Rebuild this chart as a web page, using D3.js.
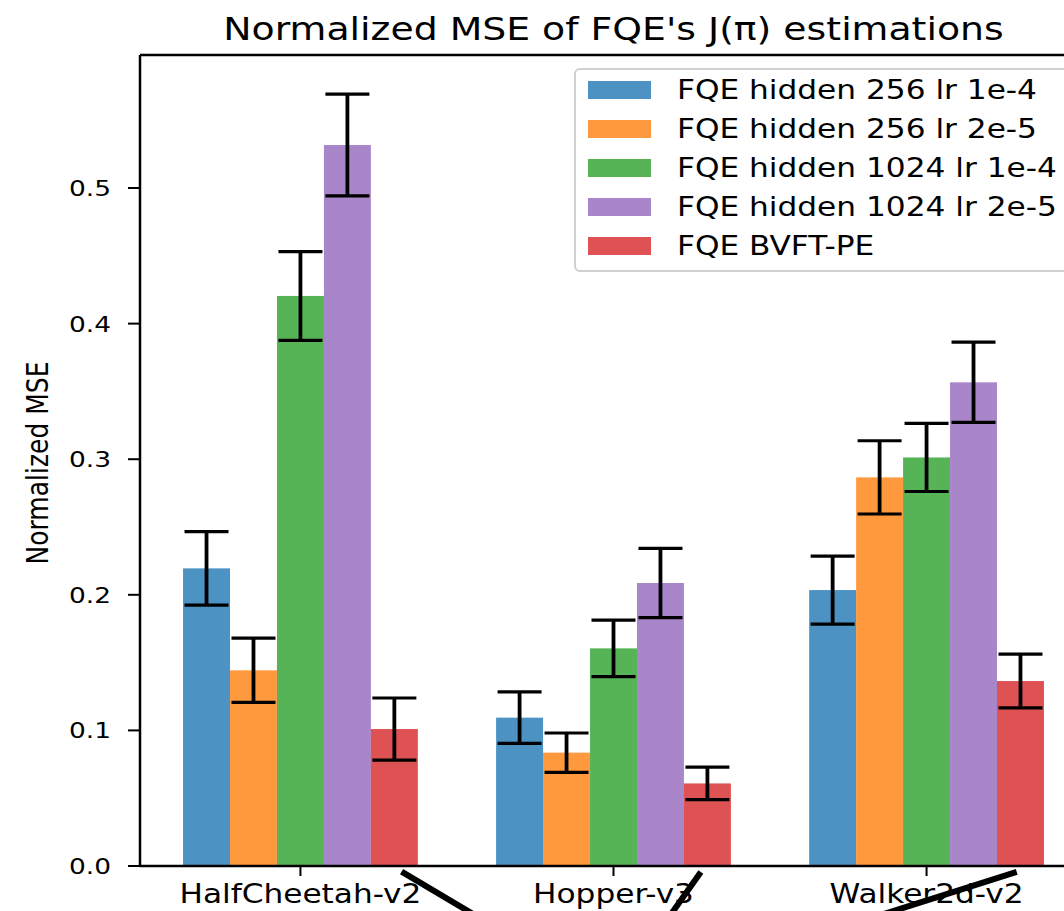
<!DOCTYPE html>
<html>
<head>
    <meta charset="UTF-8" />
    <style>
        body { margin: 0; background: #fff; }
        text { font-family: "DejaVu Sans", sans-serif; fill: #000; }
    </style>
    <script src="https://d3js.org/d3.v7.min.js"></script>
</head>
<body>
    <svg width="1064" height="911"></svg>
    <script>
        // data
        var categories = ["HalfCheetah-v2", "Hopper-v3", "Walker2d-v2"];
        var seriesNames = [
            "FQE hidden 256 lr 1e-4",
            "FQE hidden 256 lr 2e-5",
            "FQE hidden 1024 lr 1e-4",
            "FQE hidden 1024 lr 2e-5",
            "FQE BVFT-PE"
        ];
        var means = [
            [0.2195, 0.1094, 0.2035],
            [0.1443, 0.0836, 0.2866],
            [0.4204, 0.1605, 0.3013],
            [0.5317, 0.2087, 0.3567],
            [0.1010, 0.0609, 0.1364]
        ];
        var errors = [
            [0.0271, 0.0190, 0.0251],
            [0.0237, 0.0145, 0.0270],
            [0.0327, 0.0209, 0.0251],
            [0.0375, 0.0256, 0.0296],
            [0.0229, 0.0120, 0.0198]
        ];
        var yTicks = [0.0, 0.1, 0.2, 0.3, 0.4, 0.5];
        // stray strokes below the axis, in data units (group index, value)
        var slashes = [
            [0.323, -0.0042, 0.641, -0.0477],
            [1.279, -0.0044, 1.147, -0.0476],
            [2.288, -0.0044, 1.697, -0.0476]
        ];

        var colors = ["#1f77b4", "#ff7f0e", "#2ca02c", "#9467bd", "#d62728"];
        var barW = 0.15;
        var sx = 1.2; // horizontal stretch of the text

        var svg = d3.select("svg");

        var x = d3.scaleLinear().domain([-0.5125, 2.5125]).range([140, 1087]);
        var y = d3.scaleLinear().domain([0, 0.5981]).range([866, 55]);

        var g = svg.append("g");

        // bars
        seriesNames.forEach(function(name, j) {
            g.selectAll(".bar" + j)
             .data(means[j])
             .enter().append("rect")
             .attr("x", function(d, i) { return x(i + (j - 2) * barW - barW / 2); })
             .attr("width", x(barW) - x(0))
             .attr("y", function(d) { return y(d); })
             .attr("height", function(d) { return y(0) - y(d); })
             .attr("fill", colors[j])
             .attr("fill-opacity", 0.8);
        });

        // error bars
        seriesNames.forEach(function(name, j) {
            var eb = g.selectAll(".err" + j)
                      .data(means[j])
                      .enter().append("g");
            var cx = function(d, i) { return x(i + (j - 2) * barW); };
            eb.append("line")
              .attr("x1", cx).attr("x2", cx)
              .attr("y1", function(d, i) { return y(d - errors[j][i]); })
              .attr("y2", function(d, i) { return y(d + errors[j][i]); })
              .attr("stroke", "#000").attr("stroke-width", 3.8);
            [-1, 1].forEach(function(s) {
                eb.append("line")
                  .attr("x1", function(d, i) { return cx(d, i) - 22; })
                  .attr("x2", function(d, i) { return cx(d, i) + 22; })
                  .attr("y1", function(d, i) { return y(d + s * errors[j][i]); })
                  .attr("y2", function(d, i) { return y(d + s * errors[j][i]); })
                  .attr("stroke", "#000").attr("stroke-width", 3.2);
            });
        });

        // spines
        g.append("line").attr("x1", 140).attr("x2", 1087).attr("y1", 55).attr("y2", 55)
         .attr("stroke", "#000").attr("stroke-width", 2.5);
        g.append("line").attr("x1", 140).attr("x2", 140).attr("y1", 55).attr("y2", 866)
         .attr("stroke", "#000").attr("stroke-width", 2.5);
        g.append("line").attr("x1", 140).attr("x2", 1087).attr("y1", 866).attr("y2", 866)
         .attr("stroke", "#000").attr("stroke-width", 2.5);

        // y ticks
        var yt = g.selectAll(".ytick").data(yTicks).enter().append("g");
        yt.append("line")
          .attr("x1", 128).attr("x2", 140)
          .attr("y1", function(d) { return y(d); }).attr("y2", function(d) { return y(d); })
          .attr("stroke", "#000").attr("stroke-width", 2);
        yt.append("text")
          .attr("transform", function(d) { return "translate(111," + (y(d) + 8) + ") scale(" + sx + ",1)"; })
          .attr("text-anchor", "end")
          .style("font-size", "22px")
          .text(function(d) { return d.toFixed(1); });

        // x ticks
        var xt = g.selectAll(".xtick").data(categories).enter().append("g");
        xt.append("line")
          .attr("x1", function(d, i) { return x(i); }).attr("x2", function(d, i) { return x(i); })
          .attr("y1", 866).attr("y2", 876)
          .attr("stroke", "#000").attr("stroke-width", 2);
        xt.append("text")
          .attr("transform", function(d, i) { return "translate(" + x(i) + ",903) scale(" + sx + ",1)"; })
          .attr("text-anchor", "middle")
          .style("font-size", "26px")
          .text(function(d) { return d; });

        // stray strokes
        g.selectAll(".slash").data(slashes).enter().append("line")
         .attr("x1", function(d) { return x(d[0]); })
         .attr("y1", function(d) { return y(d[1]); })
         .attr("x2", function(d) { return x(d[2]); })
         .attr("y2", function(d) { return y(d[3]); })
         .attr("stroke", "#000").attr("stroke-width", 6);

        // y label
        svg.append("text")
           .attr("transform", "translate(48,463) scale(" + sx + ",1) rotate(-90)")
           .attr("text-anchor", "middle")
           .style("font-size", "25px")
           .text("Normalized MSE");

        // title
        svg.append("text")
           .attr("transform", "translate(613.5,40) scale(" + sx + ",1)")
           .attr("text-anchor", "middle")
           .style("font-size", "31.5px")
           .text("Normalized MSE of FQE's J(π) estimations");

        // legend
        var lg = svg.append("g").attr("transform", "translate(575,69)");
        lg.append("rect")
          .attr("x", 0).attr("y", 0).attr("width", 520).attr("height", 202)
          .attr("rx", 5)
          .attr("fill", "#fff").attr("fill-opacity", 0.8)
          .attr("stroke", "#d0d0d0").attr("stroke-width", 2);
        var item = lg.selectAll(".item").data(seriesNames).enter().append("g")
                     .attr("transform", function(d, j) { return "translate(0," + (21 + j * 39) + ")"; });
        item.append("rect")
            .attr("x", 13).attr("y", -9).attr("width", 63).attr("height", 18)
            .attr("fill", function(d, j) { return colors[j]; })
            .attr("fill-opacity", 0.8);
        item.append("text")
            .attr("transform", "translate(102,9) scale(" + sx + ",1)")
            .style("font-size", "26px")
            .text(function(d) { return d; });
    </script>
</body>
</html>
